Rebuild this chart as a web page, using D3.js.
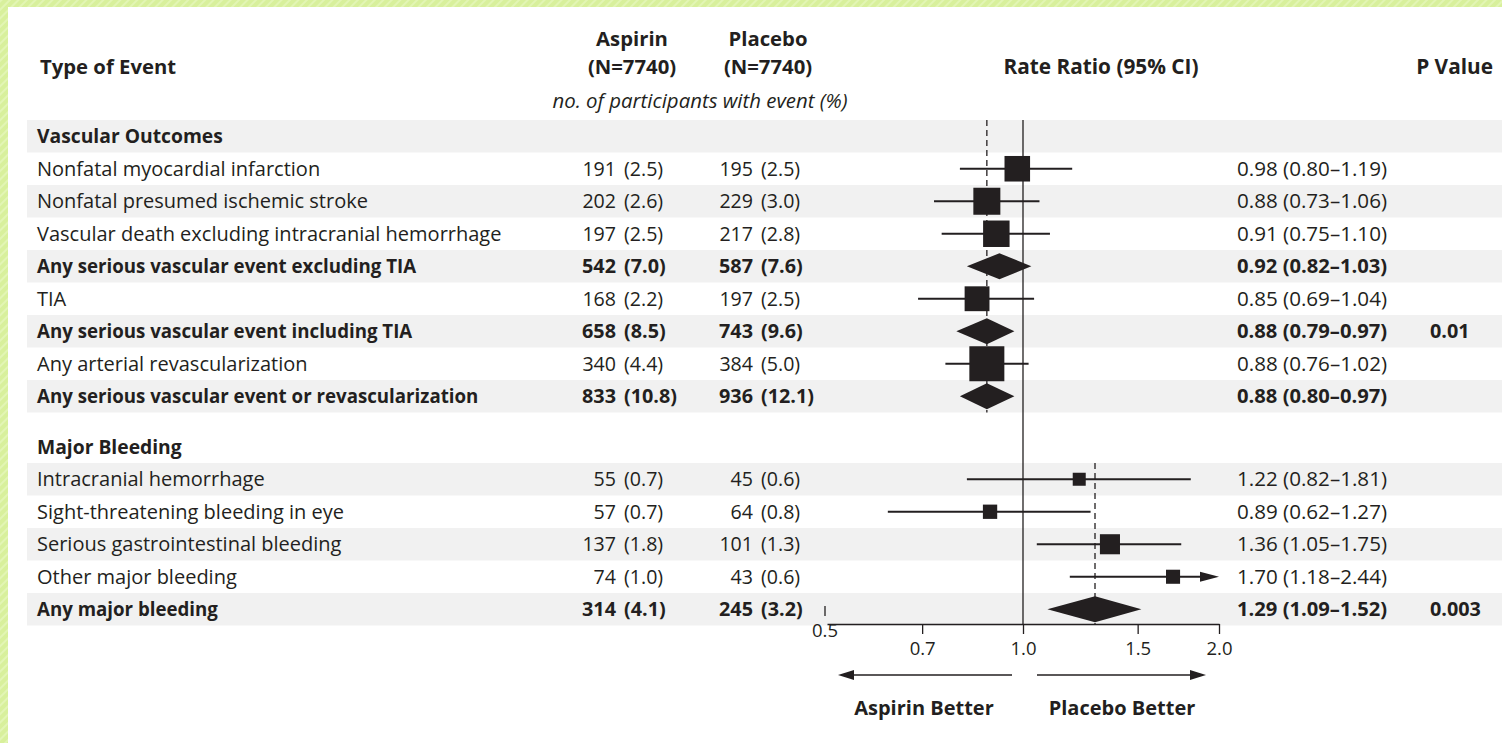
<!DOCTYPE html>
<html><head><meta charset="utf-8">
<script src="https://cdn.jsdelivr.net/npm/d3@7"></script>
<style>
html,body{margin:0;padding:0;background:#fff;}
svg{display:block;}
text{font-family:"Open Sans","Noto Sans",sans-serif;fill:#231f20;}
</style></head>
<body>
<svg id="chart" width="1502" height="743"></svg>
<script>
// ---------------- DATA ----------------
const groups = ["Vascular Outcomes", "Major Bleeding"];
const events = [
  "Nonfatal myocardial infarction",
  "Nonfatal presumed ischemic stroke",
  "Vascular death excluding intracranial hemorrhage",
  "Any serious vascular event excluding TIA",
  "TIA",
  "Any serious vascular event including TIA",
  "Any arterial revascularization",
  "Any serious vascular event or revascularization",
  "Intracranial hemorrhage",
  "Sight-threatening bleeding in eye",
  "Serious gastrointestinal bleeding",
  "Other major bleeding",
  "Any major bleeding"
];
const eventGroup   = [0,0,0,0,0,0,0,0,1,1,1,1,1];
const isSummary    = [false,false,false,true,false,true,false,true,false,false,false,false,true];
const aspirinN     = [191,202,197,542,168,658,340,833,55,57,137,74,314];
const aspirinPct   = [2.5,2.6,2.5,7.0,2.2,8.5,4.4,10.8,0.7,0.7,1.8,1.0,4.1];
const placeboN     = [195,229,217,587,197,743,384,936,45,64,101,43,245];
const placeboPct   = [2.5,3.0,2.8,7.6,2.5,9.6,5.0,12.1,0.6,0.8,1.3,0.6,3.2];
const rateRatio    = [0.98,0.88,0.91,0.92,0.85,0.88,0.88,0.88,1.22,0.89,1.36,1.70,1.29];
const ciLow        = [0.80,0.73,0.75,0.82,0.69,0.79,0.76,0.80,0.82,0.62,1.05,1.18,1.09];
const ciHigh       = [1.19,1.06,1.10,1.03,1.04,0.97,1.02,0.97,1.81,1.27,1.75,2.44,1.52];
const pValues      = ["","","","","","0.01","","","","","","","0.003"];
const groupOverall = [0.88, 1.29];
const axisTicks    = [0.7, 1.0, 1.5, 2.0];
const axisMin = 0.5, axisMax = 2.0;
const trialN = 7740;

// ---------------- LAYOUT ----------------
const svg = d3.select("#chart");
const W = 1502, H = 743;
const ink = "#231f20";
const shade = "#f1f1f1";
const rowH = 32.5, top0 = 120, spacer = 18;
const FS_REG = 20, FS_NUM = 19.6, FS_BOLDLBL = 18.7, FS_BOLDNUM = 19.8, FS_HDR = 20.3;

// background frame
const defs = svg.append("defs");
const pat = defs.append("pattern").attr("id","stripes").attr("patternUnits","userSpaceOnUse")
  .attr("width",6).attr("height",6).attr("patternTransform","rotate(45)");
pat.append("rect").attr("width",6).attr("height",6).attr("fill","#d8f09c");
pat.append("rect").attr("width",2).attr("height",6).attr("fill","#e2f5b4");
svg.append("rect").attr("width",W).attr("height",H).attr("fill","url(#stripes)");
svg.append("rect").attr("x",8).attr("y",7).attr("width",W-8).attr("height",H-7).attr("fill","#fff");

// build rows: group header + its events
const rows = [];
let t = top0;
groups.forEach((g, gi) => {
  if (gi > 0) t += spacer;
  const members = events.map((e,i)=>i).filter(i => eventGroup[i] === gi);
  const n = members.length + 1;
  rows.push({type:"header", label:g, group:gi, top:t, shaded:((n-1)%2===0)});
  t += rowH;
  members.forEach((i, k) => {
    rows.push({type:"event", i, group:gi, top:t, shaded:((n-1-(k+1))%2===0)});
    t += rowH;
  });
});

const x = d3.scaleLog().domain([axisMin, axisMax]).range([827, 1219]);
const totals = events.map((e,i)=>aspirinN[i]+placeboN[i]);
const size = d3.scaleSqrt().domain([0, d3.max(totals.filter((v,i)=>!isSummary[i]))]).range([0, 35]);

// shading
svg.append("g").selectAll("rect").data(rows.filter(r=>r.shaded)).join("rect")
  .attr("x",27).attr("y",d=>d.top).attr("width",W-27).attr("height",rowH).attr("fill",shade);

// headers
const hdr = svg.append("g").attr("font-weight",700).attr("font-size",FS_HDR);
hdr.append("text").attr("x",40).attr("y",67).attr("dy","0.35em").text("Type of Event");
[["Aspirin",632],["Placebo",768]].forEach(([nm,cx])=>{
  hdr.append("text").attr("x",cx).attr("y",39).attr("dy","0.35em").attr("text-anchor","middle").text(nm);
  hdr.append("text").attr("x",cx).attr("y",67).attr("dy","0.35em").attr("text-anchor","middle").text(`(N=${trialN})`);
});
hdr.append("text").attr("x",1101).attr("y",67).attr("dy","0.35em").attr("text-anchor","middle").attr("font-size",20.8).text("Rate Ratio (95% CI)");
hdr.append("text").attr("x",1493).attr("y",67).attr("dy","0.35em").attr("text-anchor","end").attr("font-size",20.8).text("P Value");
svg.append("text").attr("x",700).attr("y",101).attr("dy","0.35em").attr("text-anchor","middle")
  .attr("font-size",20.4).attr("font-style","italic").text("no. of participants with event (%)");

// table text
const tg = svg.append("g");
rows.forEach(r => {
  const cy = r.top + rowH/2;
  if (r.type === "header") {
    tg.append("text").attr("x",37).attr("y",cy).attr("dy","0.35em").attr("font-weight",700)
      .attr("font-size",19.3).text(r.label);
    return;
  }
  const i = r.i;
  const b = isSummary[i];
  const fw = b ? 700 : 400;
  const add = (xx, anchor, s, fs) => tg.append("text").attr("x",xx).attr("y",cy).attr("dy","0.35em")
    .attr("text-anchor",anchor).attr("font-weight",fw).attr("font-size",fs).text(s);
  const fsNum = b ? FS_BOLDNUM : FS_NUM;
  add(37,"start",events[i], b ? FS_BOLDLBL : FS_REG);
  add(616,"end",aspirinN[i], fsNum);
  add(624,"start",`(${aspirinPct[i].toFixed(1)})`, fsNum);
  add(753,"end",placeboN[i], fsNum);
  add(761,"start",`(${placeboPct[i].toFixed(1)})`, fsNum);
  add(1237,"start",`${rateRatio[i].toFixed(2)} (${ciLow[i].toFixed(2)}\u2013${ciHigh[i].toFixed(2)})`, b ? 20.2 : 20.6);
  if (pValues[i]) add(1430,"start",pValues[i], fsNum);
});

// forest plot
const axisY = 624;
const pg = svg.append("g");
pg.append("line").attr("x1",x(1)).attr("x2",x(1)).attr("y1",top0).attr("y2",axisY)
  .attr("stroke",ink).attr("stroke-width",1.3);
groups.forEach((g, gi) => {
  const gRows = rows.filter(r=>r.group===gi);
  const y1 = gi === 0 ? gRows[0].top : gRows[1].top;
  const y2 = gi === groups.length-1 ? axisY : gRows[gRows.length-1].top + rowH;
  pg.append("line").attr("x1",x(groupOverall[gi])).attr("x2",x(groupOverall[gi]))
    .attr("y1",y1).attr("y2",y2).attr("stroke",ink).attr("stroke-width",1.3).attr("stroke-dasharray","6,4");
});
rows.filter(r=>r.type==="event").forEach(r => {
  const i = r.i, cy = r.top + rowH/2;
  if (isSummary[i]) {
    const h = 13;
    pg.append("polygon").attr("fill",ink).attr("points",
      [[x(ciLow[i]),cy],[x(rateRatio[i]),cy-h],[x(ciHigh[i]),cy],[x(rateRatio[i]),cy+h]].map(p=>p.join(",")).join(" "));
  } else {
    const hiClip = ciHigh[i] > axisMax;
    const xr = hiClip ? x(axisMax) - 19 : x(ciHigh[i]);
    pg.append("line").attr("x1",x(ciLow[i])).attr("x2",xr).attr("y1",cy).attr("y2",cy)
      .attr("stroke",ink).attr("stroke-width",2);
    if (hiClip) {
      pg.append("polygon").attr("fill",ink).attr("points",
        `${xr},${cy-5} ${x(axisMax)},${cy} ${xr},${cy+5}`);
    }
    const s = size(totals[i]);
    pg.append("rect").attr("x",x(rateRatio[i])-s/2).attr("y",cy-s/2).attr("width",s).attr("height",s).attr("fill",ink);
  }
});

// axis
const ax = svg.append("g").attr("transform",`translate(0,${axisY})`)
  .call(d3.axisBottom(x).tickValues(axisTicks).tickFormat(d3.format(".1f")).tickSize(10).tickSizeOuter(0).tickPadding(8));
ax.select(".domain").attr("stroke",ink).attr("stroke-width",1.3);
ax.selectAll(".tick line").attr("stroke",ink).attr("stroke-width",1.3);
ax.selectAll(".tick text").attr("font-size",18.5).attr("font-family","'Open Sans',sans-serif").attr("fill",ink);
const x05 = x(axisMin) - 2;
svg.append("line").attr("x1",x05).attr("x2",x05).attr("y1",606).attr("y2",616).attr("stroke",ink).attr("stroke-width",1.3);
svg.append("text").attr("x",x05).attr("y",631).attr("dy","0.35em").attr("text-anchor","middle").attr("font-size",18.5)
  .text(d3.format(".1f")(axisMin));

// direction arrows
const arrY = 675;
const arrow = (xFrom, xTip) => {
  const dir = Math.sign(xTip - xFrom);
  const base = xTip - dir*16;
  svg.append("line").attr("x1",xFrom).attr("x2",base).attr("y1",arrY).attr("y2",arrY).attr("stroke",ink).attr("stroke-width",1.3);
  svg.append("polygon").attr("fill",ink).attr("points",`${base},${arrY-5} ${xTip},${arrY} ${base},${arrY+5}`);
};
arrow(1012, 838);
arrow(1037, 1206);
svg.append("text").attr("x",924).attr("y",708).attr("dy","0.35em").attr("text-anchor","middle").attr("font-weight",700).attr("font-size",20).text("Aspirin Better");
svg.append("text").attr("x",1122).attr("y",708).attr("dy","0.35em").attr("text-anchor","middle").attr("font-weight",700).attr("font-size",20).text("Placebo Better");
</script>
</body></html>
